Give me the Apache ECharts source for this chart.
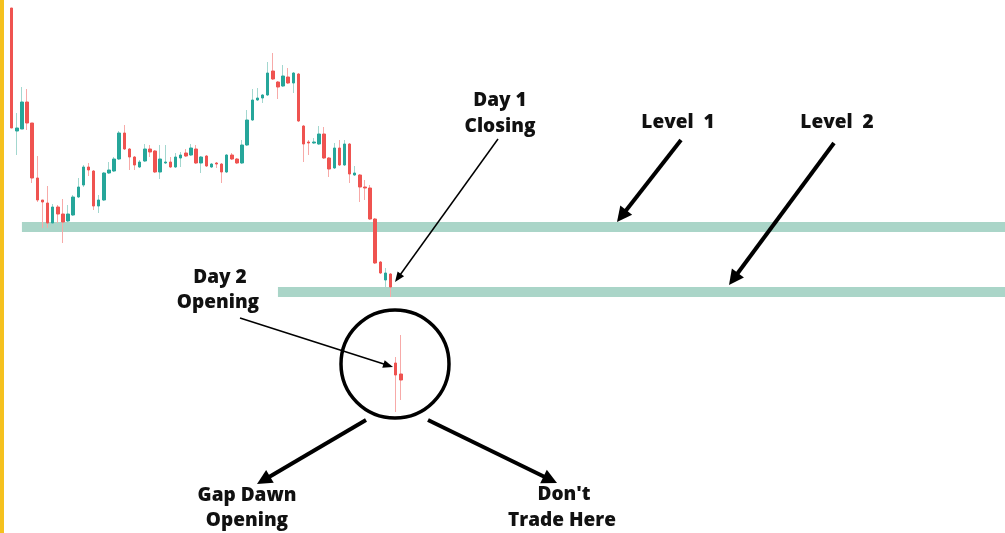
<!DOCTYPE html>
<html>
<head>
<meta charset="utf-8">
<script src="https://cdn.jsdelivr.net/npm/echarts@6/dist/echarts.min.js"></script>
<style>
html,body{margin:0;padding:0;background:#fff;}
#chart{width:1005px;height:533px;}
</style>
</head>
<body>
<div id="chart"></div>
<script>
// Price units (higher = up). Bars 1..75 = Day 1, 76..77 = Day 2.
const opens  = [525,402,404,431,410,355,333,330,310,326,319,312,318,336,348,366,362,327,333,360,362,374,400,384,376,366,372,384,382,361,370,371,366,375,380,378,384,370,377,366,370,369,361,378,374,370,388,413,433,435,438,462,451,447,456,450,459,407,391,390,389,399,375,365,385,368,389,358,358,346,345,314,271,253,259,170,159];
const closes = [405,405,431,410,355,333,331,310,326,319,311,319,336,346,366,363,327,333,360,363,374,400,384,376,368,371,384,381,361,374,371,366,376,378,377,385,370,376,367,369,369,361,378,374,370,388,413,433,435,438,460,454,446,457,450,460,412,389,390,391,399,375,364,385,368,389,359,360,346,345,314,270,260,260,246,158,153];
const lows   = [393,378,404,403,350,331,305,305,308,310,290,311,317,335,346,357,323,320,332,359,361,373,383,363,363,365,371,376,360,354,369,365,365,366,376,377,369,360,366,365,365,350,360,373,369,369,387,412,432,430,437,453,434,446,449,440,411,371,378,389,388,374,356,364,367,367,350,357,331,333,313,269,259,246,236,121,133];
const highs  = [526,420,446,444,410,377,333,347,329,328,334,328,338,355,368,370,363,338,361,371,376,402,408,385,377,373,389,388,383,388,388,376,380,381,384,389,388,377,378,370,371,370,379,380,375,393,423,444,445,439,471,480,452,468,465,461,460,408,393,395,407,406,376,390,393,393,390,367,359,353,348,315,272,265,260,176,198];
// Support levels (bottom, top) and the bar index where each band starts
const level1 = [301, 311], level1Start = 2;
const level2 = [236, 246], level2Start = 52;
const slotCount = 195; // bar slots across the full width

const categories = Array.from({length: slotCount}, (_, i) => 'Bar ' + (i + 1));
const wickData = opens.map((o, i) => [o, closes[i], lows[i], highs[i]]);
const bodyData = opens.map((o, i) => [o, closes[i], Math.min(o, closes[i]), Math.max(o, closes[i])]);

const UP = '#26a69a', DOWN = '#ef5350', UP_W = '#a3d7cf', DOWN_W = '#f7aaa8';

function arrow(x1, y1, x2, y2, lw, hl, hw) {
  const dx = x2 - x1, dy = y2 - y1, L = Math.hypot(dx, dy), ux = dx / L, uy = dy / L;
  const bx = x2 - ux * hl, by = y2 - uy * hl, px = -uy, py = ux;
  return [
    {type: 'line', z: 100, shape: {x1: x1, y1: y1, x2: bx + ux * 2, y2: by + uy * 2}, style: {stroke: '#000', lineWidth: lw}},
    {type: 'polygon', z: 100, shape: {points: [[x2, y2], [bx + px * hw / 2, by + py * hw / 2], [bx - px * hw / 2, by - py * hw / 2]]}, style: {fill: '#000'}}
  ];
}
function label(text, x, y) {
  return {type: 'text', z: 100, x: x, y: y, style: {text: text, fill: '#111', fontSize: 19, fontWeight: 800, fontFamily: '"Open Sans"', textAlign: 'center', textVerticalAlign: 'middle', align: 'center', verticalAlign: 'middle'}};
}

const chart = echarts.init(document.getElementById('chart'), null, {renderer: 'canvas'});
chart.setOption({
  animation: false,
  backgroundColor: '#ffffff',
  grid: {left: 11.7, right: 0, top: 0, bottom: 0},
  xAxis: {type: 'category', data: categories, boundaryGap: false, show: false},
  yAxis: {type: 'value', min: 0, max: 533, show: false},
  series: [
    {
      type: 'candlestick', data: wickData, barWidth: 1, z: 2, silent: true,
      itemStyle: {color: UP_W, color0: DOWN_W, borderColor: UP_W, borderColor0: DOWN_W, borderWidth: 1}
    },
    {
      type: 'candlestick', data: bodyData, barWidth: 3, z: 3, silent: true,
      itemStyle: {color: UP, color0: DOWN, borderColor: UP, borderColor0: DOWN, borderWidth: 1}
    },
    {
      type: 'line', data: [], z: 10, silent: true,
      markArea: {
        silent: true,
        itemStyle: {color: 'rgba(85,171,145,0.5)'},
        data: [
          [{xAxis: level1Start, yAxis: level1[0]}, {xAxis: slotCount - 1, yAxis: level1[1]}],
          [{xAxis: level2Start, yAxis: level2[0]}, {xAxis: slotCount - 1, yAxis: level2[1]}]
        ]
      }
    }
  ],
  graphic: [
    {type: 'rect', z: 100, shape: {x: 0, y: 0, width: 4, height: 533}, style: {fill: '#f5c11e'}},
    {type: 'circle', z: 100, shape: {cx: 395, cy: 364, r: 54}, style: {fill: 'none', stroke: '#000', lineWidth: 3.5}},
    label('Day 1', 500, 101), label('Closing', 500, 127),
    label('Level  1', 678, 123), label('Level  2', 837, 123),
    label('Day 2', 220, 278), label('Opening', 218, 303),
    label('Gap Dawn', 247, 496), label('Opening', 247, 521),
    label("Don't", 564, 495), label('Trade Here', 562, 521),
    ...arrow(498, 139, 395, 282, 1.5, 10, 8),
    ...arrow(240, 318, 393, 367, 1.5, 10, 8),
    ...arrow(681, 140, 617, 222, 4, 15, 15),
    ...arrow(834, 143, 729, 285, 4, 15, 15),
    ...arrow(366, 420, 257, 484, 4, 15, 15),
    ...arrow(428, 420, 557, 483, 4, 15, 15)
  ]
});
</script>
</body>
</html>
